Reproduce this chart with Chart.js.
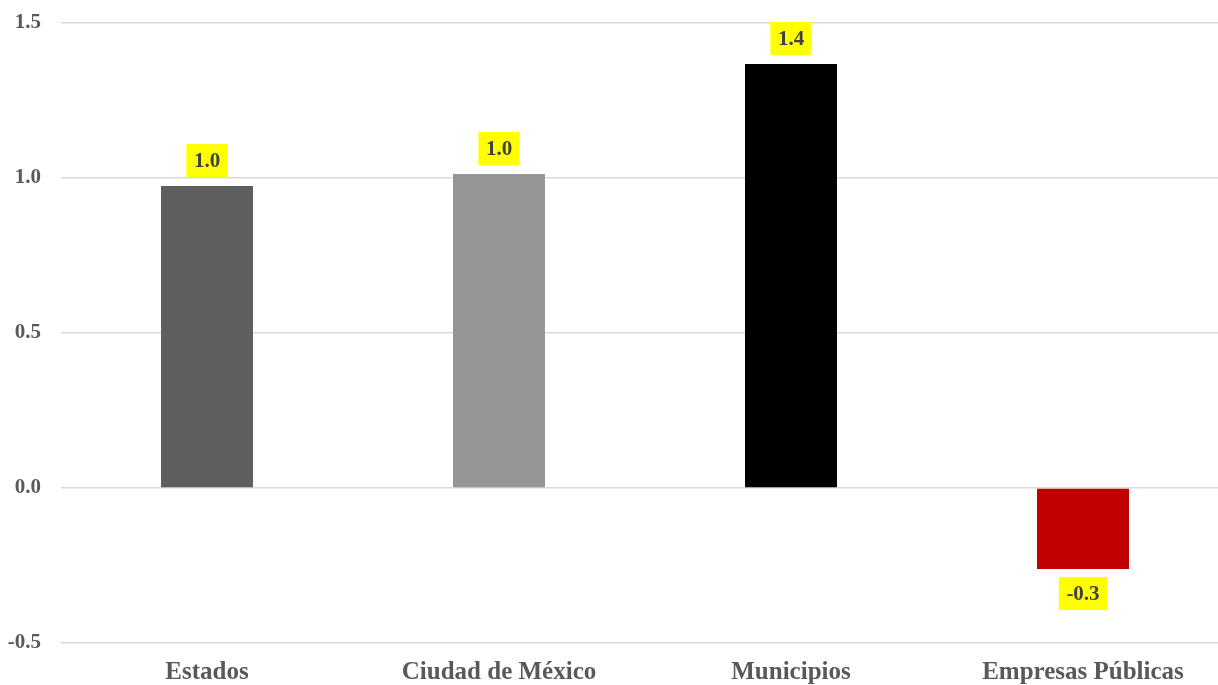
<!DOCTYPE html>
<html>
<head>
<meta charset="utf-8">
<script src="https://cdn.jsdelivr.net/npm/chart.js@4"></script>
<style>
  html, body { margin: 0; padding: 0; overflow: hidden; background: #fff; }
  #myChart { display: block; }
</style>
</head>
<body>
<canvas id="myChart" width="1229" height="685"></canvas>
<script>
var categorias = ["Estados", "Ciudad de México", "Municipios", "Empresas Públicas"];
var valores = [0.974, 1.013, 1.368, -0.261];
var colores = ["#5f5f5f", "#969696", "#000000", "#c00000"];
var ticksY = [-0.5, 0.0, 0.5, 1.0, 1.5];

var fuente = "'Palatino Linotype', 'Book Antiqua', Palatino, 'Liberation Serif', serif";

// etiquetas amarillas sobre las barras
var etiquetas = {
    id: 'etiquetas',
    afterDatasetsDraw: function(chart){
        var ctx = chart.ctx;
        var meta = chart.getDatasetMeta(0);
        ctx.save();
        ctx.font = "bold 21px " + fuente;
        ctx.textAlign = 'center';
        ctx.textBaseline = 'middle';
        meta.data.forEach(function(bar, i){
            var v = valores[i];
            var txt = v.toFixed(1);
            var w = ctx.measureText(txt).width + 15;
            var h = 33;
            var top;
            if (v >= 0) {
                top = bar.y - 9 - h;
            } else {
                top = bar.y + 8;
            }
            ctx.fillStyle = '#ffff00';
            ctx.fillRect(bar.x - w/2, top, w, h);
            ctx.fillStyle = '#404040';
            ctx.fillText(txt, bar.x, top + h/2 + 1);
        });
        ctx.restore();
    }
};

var ctx = document.getElementById("myChart");
var myChart = new Chart(ctx, {
    type: 'bar',
    data: {
        labels: categorias,
        datasets: [{
            data: valores,
            backgroundColor: colores,
            borderWidth: 0,
            barPercentage: 0.315,
            categoryPercentage: 1.0
        }]
    },
    options: {
        responsive: false,
        animation: false,
        layout: { padding: { top: 23, left: 0, right: 0, bottom: 0 } },
        plugins: {
            legend: { display: false },
            tooltip: { enabled: false }
        },
        scales: {
            x: {
                grid: { display: false, drawTicks: false },
                border: { display: false },
                ticks: {
                    color: '#595959',
                    font: { family: fuente, size: 25, weight: 'bold' },
                    padding: 15,
                    maxRotation: 0
                },
                afterFit: function(s){ s.height = 42; s.paddingLeft = 0; s.paddingRight = 0; }
            },
            y: {
                min: -0.5,
                max: 1.5,
                afterBuildTicks: function(s){
                    s.ticks = ticksY.map(function(v){ return { value: v }; });
                },
                grid: { color: '#d9d9d9', lineWidth: 1.5, drawTicks: false },
                border: { display: false },
                ticks: {
                    color: '#595959',
                    font: { family: fuente, size: 21, weight: 'bold' },
                    padding: 20,
                    callback: function(v){ return Number(v).toFixed(1); }
                },
                afterFit: function(s){ s.width = 61; s.paddingTop = 0; s.paddingBottom = 0; }
            }
        }
    },
    plugins: [etiquetas]
});
</script>
</body>
</html>
